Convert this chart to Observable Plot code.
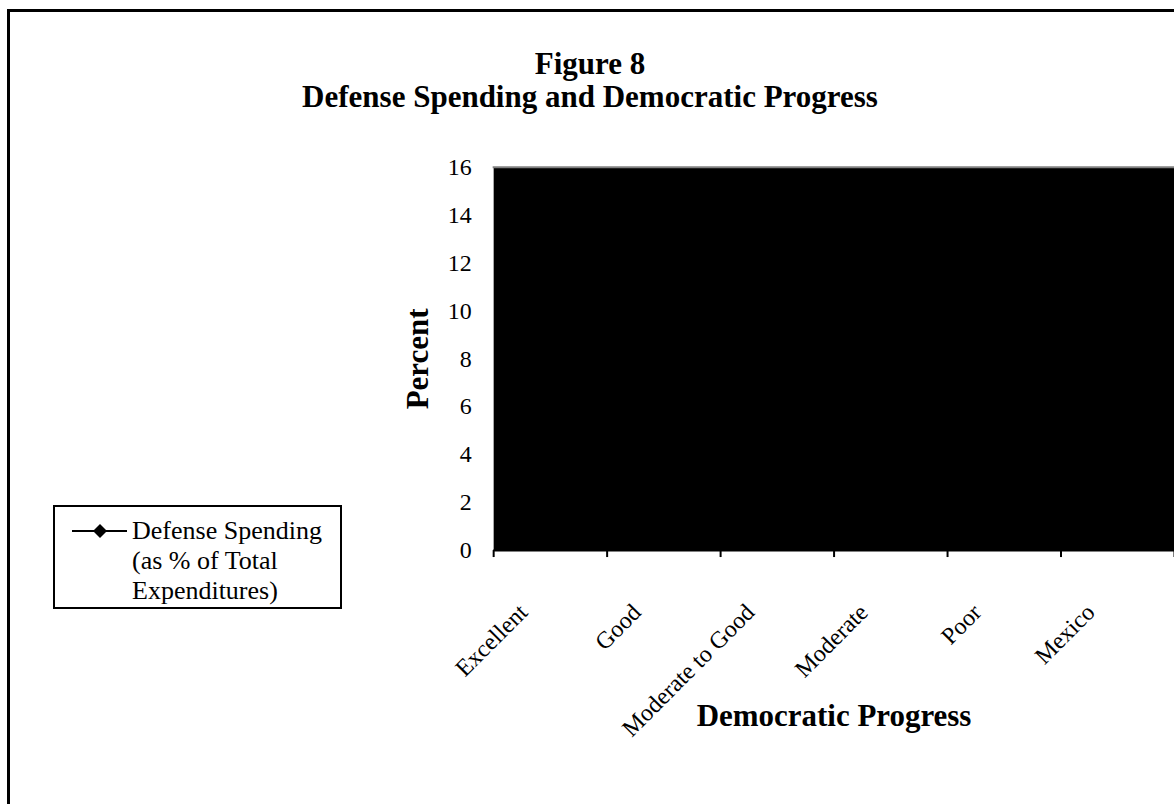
<!DOCTYPE html>
<html>
<head>
<meta charset="utf-8">
<script src="https://cdn.jsdelivr.net/npm/d3@7"></script>
<script src="https://cdn.jsdelivr.net/npm/@observablehq/plot@0.6"></script>
<style>
  html, body { margin: 0; padding: 0; background: #fff; overflow: hidden; }
  body { width: 1174px; height: 804px; position: relative; font-family: "Liberation Serif", "Times New Roman", serif; }
  #border { position: absolute; left: 7px; top: 9px; width: 1200px; height: 820px; border: 3px solid #000; box-sizing: border-box; }
  #chart { position: absolute; left: 0; top: 0; }
  #title { position: absolute; left: 0; top: 47px; width: 1180px; text-align: center; font-weight: bold; font-size: 31px; line-height: 33px; color: #000; }
  #legend { position: absolute; left: 53px; top: 505px; width: 289px; height: 104px; border: 2px solid #000; box-sizing: border-box; background: #fff; }
  #legend svg { position: absolute; left: 0; top: 0; }
  #legend .txt { position: absolute; left: 77px; top: 9px; font-size: 26px; line-height: 30px; color: #000; white-space: nowrap; }
</style>
</head>
<body>
<div id="border"></div>
<div id="chart"></div>
<div id="title">Figure 8<br>Defense Spending and Democratic Progress</div>
<div id="legend"></div>
<script>
// Democratic progress categories and defense spending share (% of total expenditures)
const categories = ["Excellent", "Good", "Moderate to Good", "Moderate", "Poor", "Mexico"];
const defenseSpending = [4.6, 6.3, 8.2, 10.4, 13.1, 2.9];
const yTicks = [0, 2, 4, 6, 8, 10, 12, 14, 16];
const seriesName = ["Defense Spending", "(as % of Total", "Expenditures)"];

const rows = categories.map((c, i) => ({category: c, pos: i + 0.5, value: defenseSpending[i]}));
const boundaries = d3.range(0, categories.length + 1);

const chart = Plot.plot({
  width: 1176,
  height: 804,
  marginLeft: 494,
  marginRight: 0,
  marginTop: 167,
  marginBottom: 253,
  style: {fontFamily: "Liberation Serif, Times New Roman, serif", color: "#000", background: "transparent", overflow: "visible"},
  x: {domain: [0, categories.length]},
  y: {domain: [0, 16]},
  marks: [
    // black plot area with a grey top border
    Plot.frame({fill: "black"}),
    Plot.frame({anchor: "top", stroke: "#808080", strokeWidth: 2}),
    Plot.ruleY([0], {stroke: "black", strokeWidth: 2}),
    Plot.axisY({ticks: yTicks, tickSize: 0, tickPadding: 22, fontSize: 24, label: null}),
    Plot.axisX({ticks: boundaries, tickSize: 7, strokeWidth: 2, tickFormat: () => "", label: null}),
    Plot.line(rows, {x: "pos", y: "value", stroke: "black", strokeWidth: 2}),
    Plot.dot(rows, {x: "pos", y: "value", symbol: "diamond", fill: "black", r: 5}),
    Plot.text(rows, {
      x: "pos", text: "category", frameAnchor: "bottom",
      textAnchor: "end", lineAnchor: "middle", rotate: -45, dx: -27, dy: 58,
      fontSize: 24, fill: "black", ariaLabel: "category labels"
    }),
    Plot.text(["Percent"], {frameAnchor: "left", textAnchor: "middle", lineAnchor: "middle", dx: -76, rotate: -90, fontSize: 31, fontWeight: "bold", fill: "black"}),
    Plot.text(["Democratic Progress"], {frameAnchor: "bottom", textAnchor: "middle", lineAnchor: "middle", dy: 166, fontSize: 31, fontWeight: "bold", fill: "black"})
  ]
});
document.getElementById("chart").append(chart);
d3.select(chart).selectAll('g[aria-label="category labels"] text').style("letter-spacing", "-2px");

// Legend: line-with-diamond swatch and series name
const legend = d3.select("#legend");
const sw = legend.append("svg").attr("width", 80).attr("height", 60);
sw.append("line").attr("x1", 17).attr("x2", 72).attr("y1", 24).attr("y2", 24).attr("stroke", "black").attr("stroke-width", 2);
sw.append("path").attr("d", "M45,17L52,24L45,31L38,24Z").attr("fill", "black");
legend.append("div").attr("class", "txt").html(seriesName.join("<br>"));
</script>
</body>
</html>
